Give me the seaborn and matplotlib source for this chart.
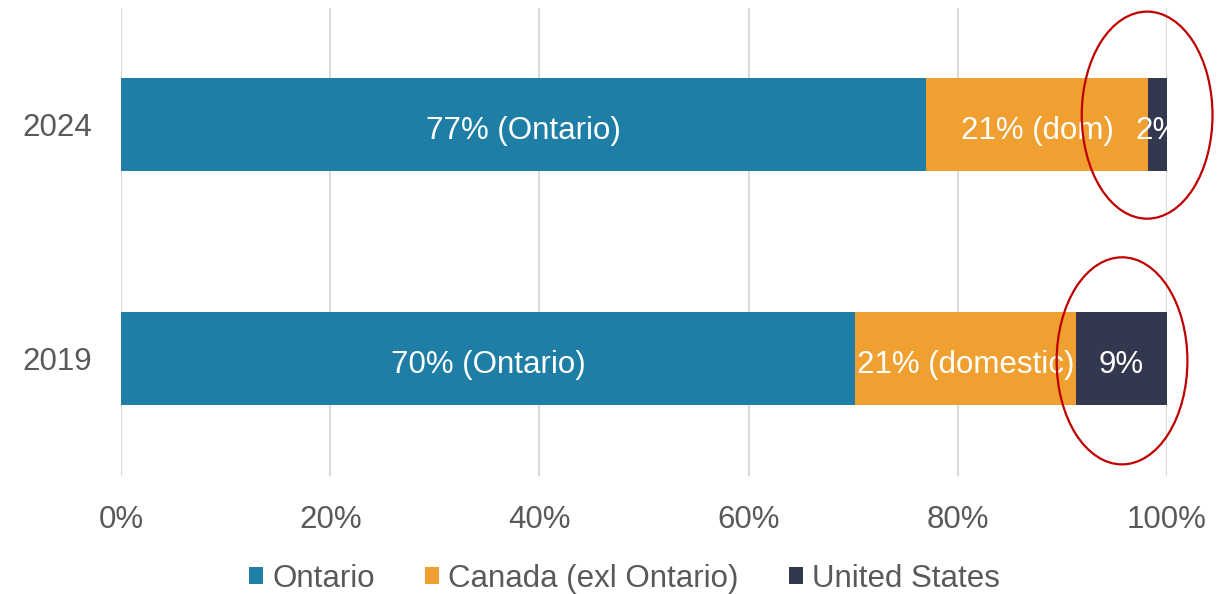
import matplotlib
matplotlib.use("Agg")
import matplotlib.pyplot as plt
from matplotlib.patches import Patch, Ellipse
import seaborn as sns
import pandas as pd
import numpy as np

years = ["2024", "2019"]
series = ["Ontario", "Canada (exl Ontario)", "United States"]
ontario = [77.0, 70.2]
canada = [21.2, 21.1]
usa = [1.8, 8.7]
labels_ontario = ["77% (Ontario)", "70% (Ontario)"]
labels_canada = ["21% (dom)", "21% (domestic)"]
labels_usa = ["2%", "9%"]
x_ticks = [0, 20, 40, 60, 80, 100]
x_ticklabels = ["0%", "20%", "40%", "60%", "80%", "100%"]

colors = ["#1F7EA6", "#F0A030", "#33384E"]
text_grey = "#595959"

sns.set_style("white")
plt.rcParams["font.family"] = ["Liberation Sans", "DejaVu Sans"]
FS = 22.5

fig = plt.figure(figsize=(12.3, 5.94), dpi=100)
ax = fig.add_axes([121 / 1230, (594 - 475.5) / 594, 1046 / 1230, 468 / 594])

df = pd.DataFrame({"year": years, "Ontario": ontario, "Canada": canada, "US": usa})
df["c1"] = df["Ontario"]
df["c2"] = df["Ontario"] + df["Canada"]
df["c3"] = df["c2"] + df["US"]

# stacked via cumulative overlays (largest first)
for col, color in zip(["c3", "c2", "c1"], colors[::-1]):
    sns.barplot(data=df, x=col, y="year", order=years, orient="h", color=color,
                width=0.4, saturation=1, ax=ax, edgecolor="none", zorder=2)

# labels
for i in range(len(years)):
    segs = [(0, df["c1"][i], labels_ontario[i]),
            (df["c1"][i], df["c2"][i], labels_canada[i]),
            (df["c2"][i], df["c3"][i], labels_usa[i])]
    for a, b, lab in segs:
        ax.text((a + b) / 2, i + 0.012, lab, ha="center", va="center_baseline", color="white",
                fontsize=FS, zorder=4, clip_on=True)

ax.set_xlim(0, 100)
ax.set_ylim(1.5, -0.5)
ax.set_xticks(x_ticks)
ax.set_xticklabels(x_ticklabels)
ax.set_xlabel("")
ax.set_ylabel("")
ax.tick_params(axis="x", length=0, pad=21, labelsize=FS, labelcolor=text_grey)
ax.tick_params(axis="y", length=0, pad=21, labelsize=FS, labelcolor=text_grey)
ax.grid(axis="x", color="#D9D9D9", linewidth=1.5)
ax.grid(axis="y", visible=False)
ax.set_axisbelow(True)
for s in ax.spines.values():
    s.set_visible(False)

# red ellipses highlighting US share
ell_x = [98.1, 95.7]
ell_y = [-0.04, 0.01]
for i in range(2):
    e = Ellipse((ell_x[i], i + ell_y[i]), width=12.5, height=0.885, facecolor="none",
                edgecolor="#C00000", linewidth=1.6, zorder=5, clip_on=False)
    ax.add_patch(e)

handles = [Patch(facecolor=c, edgecolor="none") for c in colors]
fig.legend(handles, series, loc="center", bbox_to_anchor=(0.5075, 1 - 579 / 594),
           ncol=3, frameon=False, fontsize=FS, handlelength=0.45, handleheight=0.45,
           handletextpad=0.3, columnspacing=1.6, labelcolor=text_grey)

fig.savefig("out.png", dpi=100)
